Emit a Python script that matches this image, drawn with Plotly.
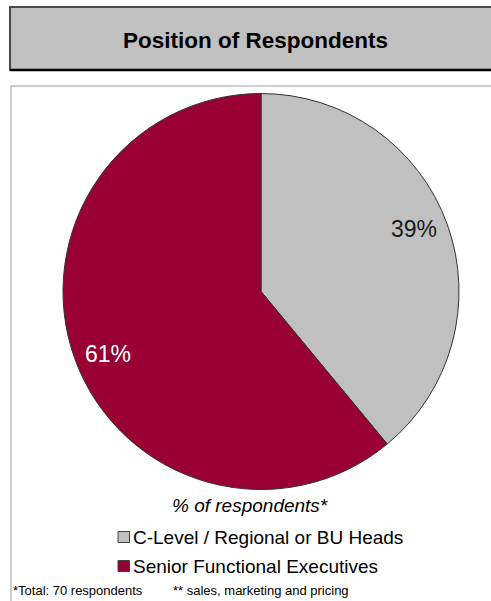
import math
import plotly.graph_objects as go

# Survey breakdown
categories = ["C-Level / Regional or BU Heads", "Senior Functional Executives"]
shares = [39, 61]
colors = ["#C0C0C0", "#990033"]
label_colors = ["#1a1a1a", "#ffffff"]
chart_title = "Position of Respondents"
legend_title = "% of respondents*"
footnotes = ["*Total: 70 respondents", "** sales, marketing and pricing"]

W, H = 491, 601
FONT = "Liberation Sans, Arial, sans-serif"


def px(x):
    return x / W


def py(y):
    return 1 - y / H


# pie geometry (pixels)
cx, cy, r = 261, 291.5, 198

fig = go.Figure()

fig.add_trace(go.Pie(
    labels=categories,
    values=shares,
    marker=dict(colors=colors, line=dict(color="#333333", width=1)),
    sort=False,
    direction="clockwise",
    rotation=0,
    textinfo="none",
    hoverinfo="label+percent",
    showlegend=False,
    domain=dict(x=[px(cx - r), px(cx + r)], y=[py(cy + r), py(cy - r)]),
))

shapes = [
    # chart frame
    dict(type="rect", xref="paper", yref="paper",
         x0=px(11), x1=px(520), y0=py(640), y1=py(86),
         line=dict(color="#BFBFBF", width=1.5), fillcolor="white", layer="below"),
    # title bar
    dict(type="rect", xref="paper", yref="paper",
         x0=px(10), x1=px(520), y0=py(70), y1=py(7),
         line=dict(color="#4a4a4a", width=2), fillcolor="#C0C0C0", layer="below"),
    dict(type="line", xref="paper", yref="paper",
         x0=px(10), x1=px(520), y0=py(70), y1=py(70),
         line=dict(color="#000000", width=2.5), layer="below"),
]

annotations = [
    dict(text="<b>" + chart_title + "</b>", x=px(255.5), y=py(40.5),
         xref="paper", yref="paper", showarrow=False, xanchor="center", yanchor="middle",
         font=dict(family=FONT, size=22.5, color="#000000")),
    dict(text="<i>" + legend_title + "</i>", x=px(250), y=py(505),
         xref="paper", yref="paper", showarrow=False, xanchor="center", yanchor="middle",
         font=dict(family=FONT, size=19, color="#000000")),
]

# value labels placed near each slice's mid-angle
total = sum(shares)
start = 0.0
label_r = 0.836 * r
label_turn = math.radians(-2.3)
for val, col in zip(shares, label_colors):
    frac = val / total
    mid = (start + frac / 2) * 2 * math.pi + label_turn
    lx = cx + label_r * math.sin(mid)
    ly = cy - label_r * math.cos(mid)
    annotations.append(dict(
        text=f"{round(frac * 100)}%", x=px(lx), y=py(ly),
        xref="paper", yref="paper", showarrow=False, xanchor="center", yanchor="middle",
        font=dict(family=FONT, size=23, color=col)))
    start += frac

# legend rows
row_y = [537, 566]
for name, col, yy in zip(categories, colors, row_y):
    shapes.append(dict(type="rect", xref="paper", yref="paper",
                       x0=px(118), x1=px(129.5), y0=py(yy + 5.5), y1=py(yy - 5.5),
                       line=dict(color="#404040", width=1), fillcolor=col))
    annotations.append(dict(text=name, x=px(131), y=py(yy),
                            xref="paper", yref="paper", showarrow=False,
                            xanchor="left", yanchor="middle",
                            font=dict(family=FONT, size=19, color="#000000")))

# footnotes
for txt, xx in zip(footnotes, [11, 171]):
    annotations.append(dict(text=txt, x=px(xx), y=py(590),
                            xref="paper", yref="paper", showarrow=False,
                            xanchor="left", yanchor="middle",
                            font=dict(family=FONT, size=13, color="#000000")))

fig.update_layout(
    width=W, height=H,
    margin=dict(l=0, r=0, t=0, b=0),
    paper_bgcolor="white",
    plot_bgcolor="white",
    shapes=shapes,
    annotations=annotations,
    showlegend=False,
)

fig.write_html("out.html")
